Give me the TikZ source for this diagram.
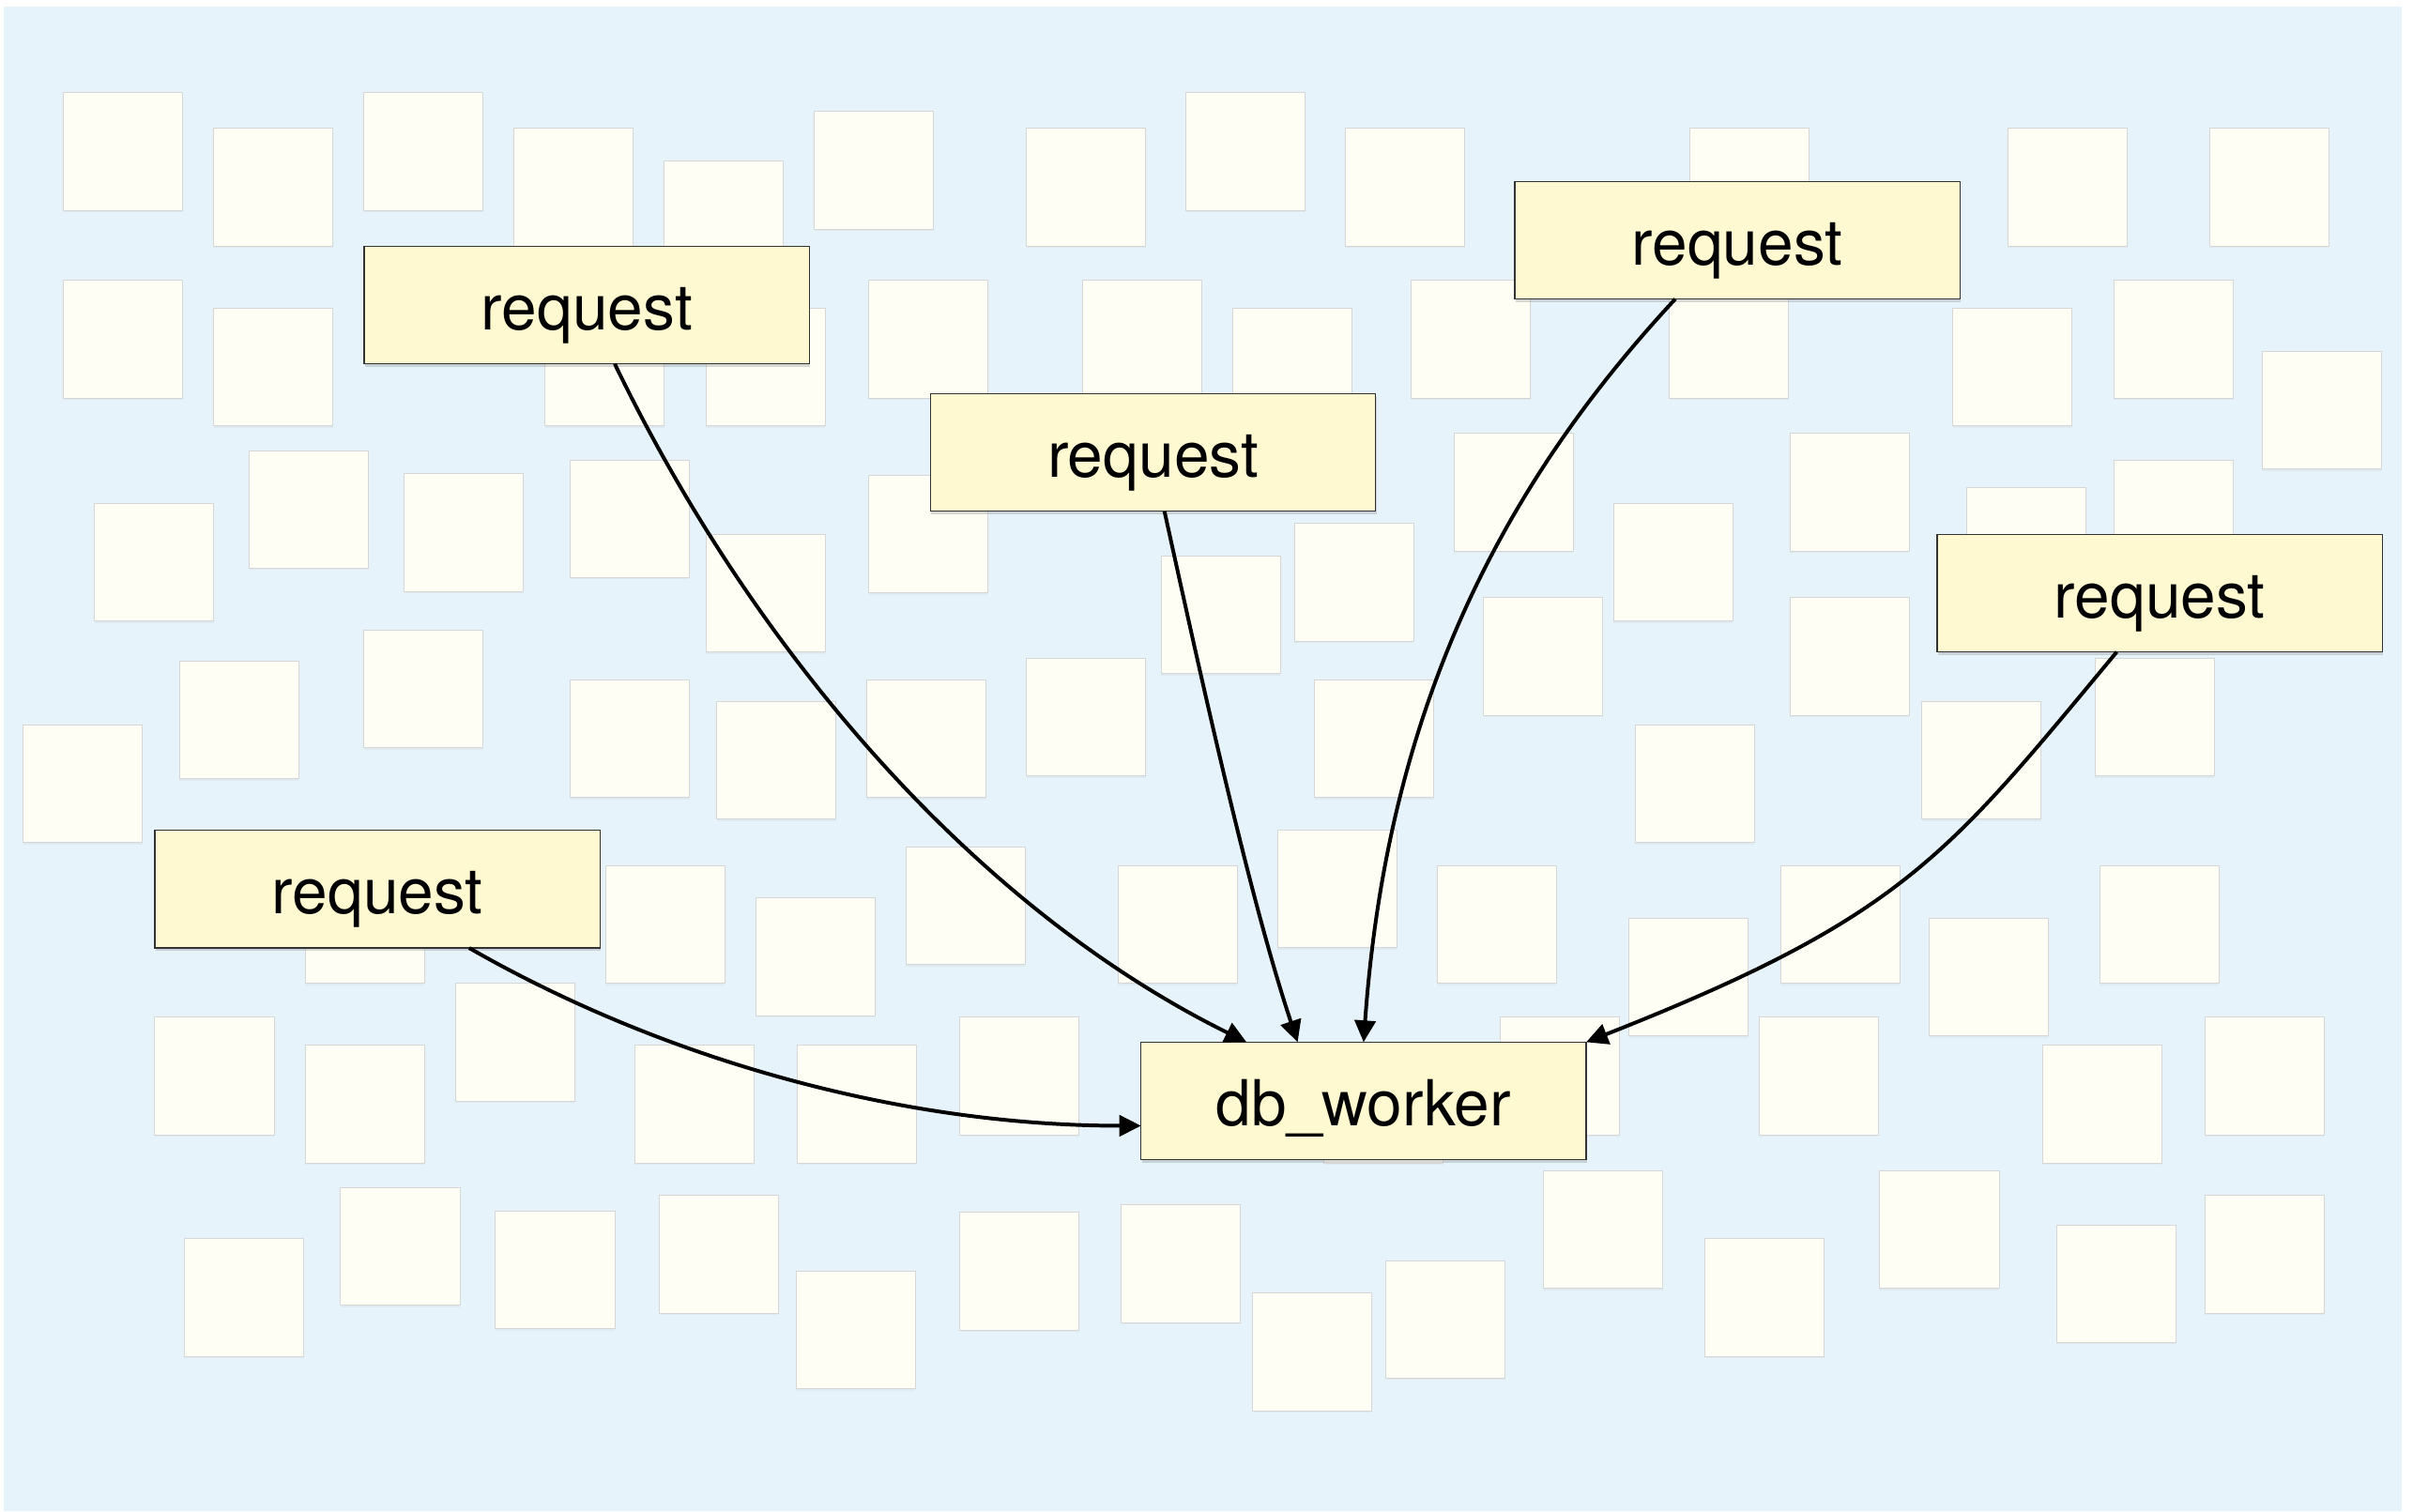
\documentclass[tikz,border=0pt]{standalone}
\usepackage{fontspec}
\setmainfont{TeX Gyre Heros}
\usetikzlibrary{arrows.meta,shadows}
\definecolor{bgblue}{HTML}{E6F3FB}
\definecolor{sqfill}{HTML}{FEFEF5}
\definecolor{sqline}{HTML}{D6D6D6}
\definecolor{boxfill}{HTML}{FFF9D2}
\definecolor{boxline}{HTML}{333333}
\begin{document}
\begin{tikzpicture}[x=1pt,y=-1pt,
  sq/.style={fill=sqfill,draw=sqline,line width=0.6pt,
    drop shadow={shadow xshift=0pt,shadow yshift=-1.2pt,opacity=0.07}},
  box/.style={draw=boxline,fill=boxfill,line width=0.8pt,
    minimum width=287.5pt,minimum height=76pt,inner sep=0pt,outer sep=0pt,
    text height=32pt,text depth=0pt,font=\fontsize{41}{49}\selectfont,
    drop shadow={shadow xshift=0.6pt,shadow yshift=-2pt,opacity=0.3}},
  link/.style={-{Triangle[length=14pt,width=13.5pt]},line width=2.4pt,black}]

\useasboundingbox (0,0) rectangle (1568,976);
\fill[white] (0,0) rectangle (1568,976);
\fill[bgblue] (2.4,4.2) rectangle (1551,976);

% background squares
\foreach \x/\y in {
  41/60,138/83,235/60,332/83,429/104,526/72,663/83,766/60,869/83,1091/83,1297/83,1427/83,
  41/181,138/199,352/199,456/199,561/181,699/181,796/199,911/181,1078/181,1261/199,1365/181,1461/227,
  61/325,161/291,261/306,368/297,456/345,561/307,750/359,836/338,939/280,1042/325,1156/280,1270/315,1365/297,
  15/468,116/427,235/407,368/439,463/453,560/439,663/425,849/439,958/386,1156/386,1056/468,1241/453,1353/425,
  197/559,391/559,488/580,585/547,722/559,825/536,928/559,1052/593,1150/559,1246/593,1356/559,
  100/657,197/675,294/635,410/675,515/675,620/657,855/675,969/657,1136/657,1319/675,1424/657,
  119/800,220/767,320/782,426/772,514/821,620/783,724/778,809/835,895/814,997/756,1101/800,1214/756,1328/791,1424/772}
  \draw[sq] (\x,\y) rectangle ++(77,76);

% nodes
\node[box] (r1) at (379,197) {request};
\node[box] (r2) at (744.6,292.2) {request};
\node[box] (r3) at (1121.9,155.1) {request};
\node[box] (r4) at (1394.7,383) {request};
\node[box] (r5) at (243.8,574.2) {request};
\node[box] (db) at (880.6,711) {db\_worker};

% connectors
\draw[link] ([xshift=18pt]r1.south) .. controls (484,415) and (625,584) .. ([xshift=-75.6pt]db.north);
\draw[link] ([xshift=7.4pt]r2.south) .. controls (773.5,427.6) and (806,577) .. ([xshift=-42.6pt]db.north);
\draw[link] ([xshift=-40pt]r3.south) .. controls (959.6,324.4) and (895,472) .. (db.north);
\draw[link] ([xshift=-27.7pt]r4.south) .. controls (1258,552) and (1230,592) .. (db.north east);
\draw[link] ([xshift=59.2pt]r5.south) .. controls (433.5,687) and (587,727) .. ([yshift=-16pt]db.west);
\end{tikzpicture}
\end{document}
